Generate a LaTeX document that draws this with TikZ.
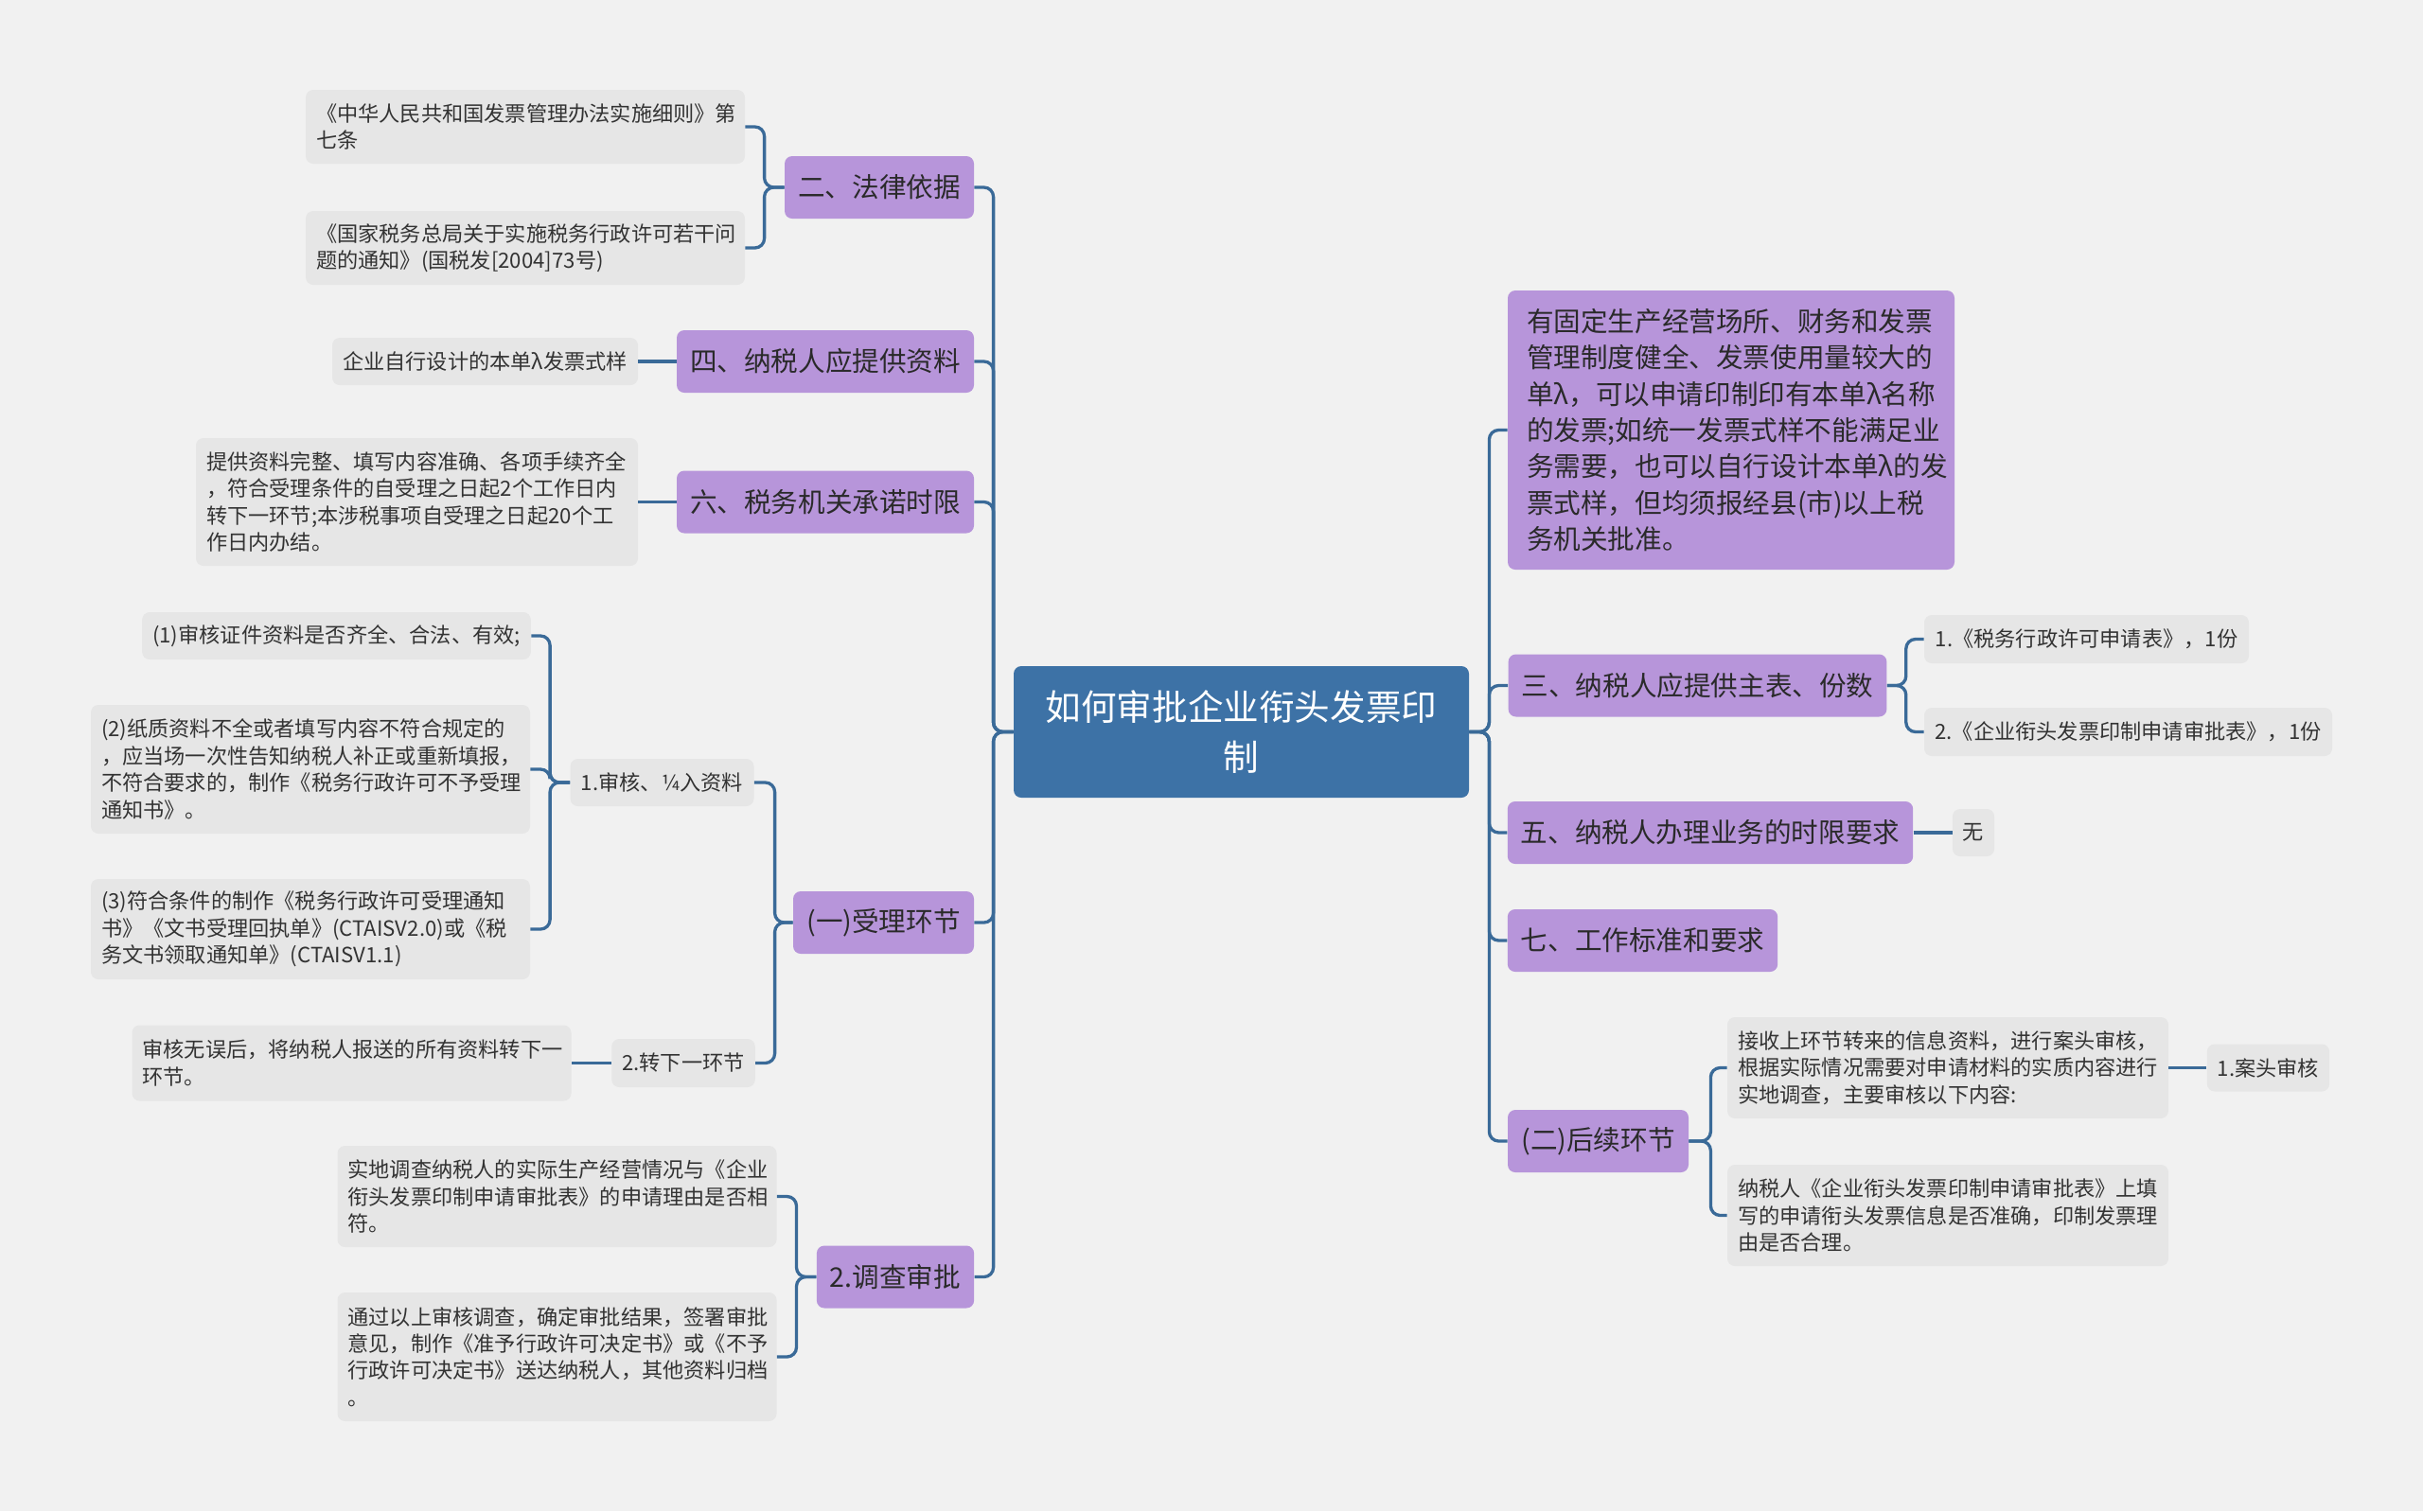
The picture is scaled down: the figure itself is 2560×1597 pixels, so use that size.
\documentclass[tikz,border=0pt]{standalone}
\usepackage{fontspec}
\setmainfont{Noto Sans CJK SC}
\definecolor{bgc}{HTML}{F1F1F1}
\definecolor{gbg}{HTML}{E6E6E6}
\definecolor{pbg}{HTML}{B795DA}
\definecolor{cbg}{HTML}{3D72A6}
\definecolor{lc}{HTML}{3A6A98}
\definecolor{gtxt}{HTML}{333333}
\definecolor{ptxt}{HTML}{2A2A2A}
\tikzset{
  gbox/.style={fill=gbg, rounded corners=4pt, text=gtxt, font=\fontsize{11.1}{14.2}\selectfont, inner xsep=5.5pt, inner ysep=0pt, align=left},
  gone/.style={gbox, align=center},
  pbox/.style={fill=pbg, rounded corners=4pt, text=ptxt, font=\fontsize{14.3}{19.2}\selectfont, inner xsep=7pt, inner ysep=0pt, align=center, minimum height=33pt},
  cbox/.style={fill=cbg, rounded corners=4pt, text=white, font=\fontsize{18.8}{26.6}\selectfont, inner sep=0pt, align=center},
  conn/.style={draw=lc, line width=1.65pt, rounded corners=5pt}
}
\begin{document}
\begin{tikzpicture}[x=0.5pt,y=-0.5pt]
\fill[bgc] (0,0) rectangle (2560,1597);
\useasboundingbox (0,0) rectangle (2560,1597);

% central
\node[cbox, minimum width=240.5pt, minimum height=69.5pt] (c) at (1311.5,773.5) {如何审批企业衔头发票印\\制};

% left level 1
\node[pbox, minimum width=100pt] (A) at (929,198) {二、法律依据};
\node[pbox, minimum width=156pt] (B) at (872,382) {四、纳税人应提供资料};
\node[pbox, minimum width=156pt] (C) at (872,530.5) {六、税务机关承诺时限};
\node[pbox, minimum width=95.5pt] (D) at (933.5,975) {(一)受理环节};
\node[pbox, minimum width=83pt] (E) at (946,1349.5) {2.调查审批};

% left gray
\node[gbox, text width=221pt, minimum height=39pt] (A1) at (555,134) {《中华人民共和国发票管理办法实施细则》第\\七条};
\node[gbox, text width=221pt, minimum height=39pt] (A2) at (555,262) {《国家税务总局关于实施税务行政许可若干问\\题的通知》(国税发[2004]73号)};
\node[gone, minimum width=161.5pt, minimum height=25pt] (B1) at (512.5,382) {企业自行设计的本单λ发票式样};
\node[gbox, text width=222.5pt, minimum height=67.5pt] (C1) at (440.5,530.5) {提供资料完整、填写内容准确、各项手续齐全\\，符合受理条件的自受理之日起2个工作日内\\转下一环节;本涉税事项自受理之日起20个工\\作日内办结。};
\node[gone, minimum width=97pt, minimum height=25pt] (D1) at (699.5,827) {1.审核、¼入资料};
\node[gone, minimum width=204.5pt, minimum height=25pt] (D1a) at (355.5,672) {(1)审核证件资料是否齐全、合法、有效;};
\node[gbox, text width=221pt, minimum height=68pt] (D1b) at (328,813) {(2)纸质资料不全或者填写内容不符合规定的\\，应当场一次性告知纳税人补正或重新填报，\\不符合要求的，制作《税务行政许可不予受理\\通知书》。};
\node[gbox, text width=221pt, minimum height=53pt] (D1c) at (328,982) {(3)符合条件的制作《税务行政许可受理通知\\书》《文书受理回执单》(CTAISV2.0)或《税\\务文书领取通知单》(CTAISV1.1)};
\node[gone, minimum width=75pt, minimum height=25.5pt] (D2) at (722,1123.5) {2.转下一环节};
\node[gbox, text width=221pt, minimum height=40pt] (D2a) at (371.5,1123.5) {审核无误后，将纳税人报送的所有资料转下一\\环节。};
\node[gbox, text width=221pt, minimum height=53.5pt] (E1) at (588.5,1264.5) {实地调查纳税人的实际生产经营情况与《企业\\衔头发票印制申请审批表》的申请理由是否相\\符。};
\node[gbox, text width=221pt, minimum height=68pt] (E2) at (588.5,1434) {通过以上审核调查，确定审批结果，签署审批\\意见，制作《准予行政许可决定书》或《不予\\行政许可决定书》送达纳税人，其他资料归档\\。};

% right level 1
\node[pbox, align=left, text width=216pt, minimum width=236pt, minimum height=147.5pt] (F1) at (1829,454.5) {有固定生产经营场所、财务和发票\\管理制度健全、发票使用量较大的\\单λ，可以申请印制印有本单λ名称\\的发票;如统一发票式样不能满足业\\务需要，也可以自行设计本单λ的发\\票式样，但均须报经县(市)以上税\\务机关批准。};
\node[pbox, minimum width=199.5pt] (F2) at (1793.5,724.5) {三、纳税人应提供主表、份数};
\node[pbox, minimum width=214pt] (F3) at (1807,880) {五、纳税人办理业务的时限要求};
\node[pbox, minimum width=142.5pt] (F4) at (1735.5,994) {七、工作标准和要求};
\node[pbox, minimum width=95.5pt] (F5) at (1688.5,1206) {(二)后续环节};

% right gray
\node[gone, minimum width=171.5pt, minimum height=25.5pt] (F2a) at (2204.5,675.5) {1.《税务行政许可申请表》，1份};
\node[gone, minimum width=215.5pt, minimum height=25.5pt] (F2b) at (2248.5,773.5) {2.《企业衔头发票印制申请审批表》，1份};
\node[gone, minimum width=22pt, minimum height=25pt] (F3a) at (2085,880) {无};
\node[gbox, text width=222pt, minimum height=53.5pt] (F5a) at (2058,1128.5) {接收上环节转来的信息资料，进行案头审核，\\根据实际情况需要对申请材料的实质内容进行\\实地调查，主要审核以下内容:};
\node[gone, minimum width=64.5pt, minimum height=25pt] (F5a1) at (2396.5,1128.5) {1.案头审核};
\node[gbox, text width=222pt, minimum height=53.5pt] (F5b) at (2058,1284.5) {纳税人《企业衔头发票印制申请审批表》上填\\写的申请衔头发票信息是否准确，印制发票理\\由是否合理。};

% connectors left
\foreach \t in {A,B,C,D,E} \draw[conn] (c.west) -- ++(-21,0) |- (\t.east);
\foreach \t in {A1,A2} \draw[conn] (A.west) -- ++(-21,0) |- (\t.east);
\draw[conn] (B.west) -- (B1.east);
\draw[conn] (C.west) -- (C1.east);
\foreach \t in {D1,D2} \draw[conn] (D.west) -- ++(-19,0) |- (\t.east);
\foreach \t in {D1a,D1b,D1c} \draw[conn] (D1.west) -- ++(-21,0) |- (\t.east);
\draw[conn] (D2.west) -- (D2a.east);
\foreach \t in {E1,E2} \draw[conn] (E.west) -- ++(-21,0) |- (\t.east);

% connectors right
\foreach \t in {F1,F2,F3,F4,F5} \draw[conn] (c.east) -- ++(21,0) |- (\t.west);
\foreach \t in {F2a,F2b} \draw[conn] (F2.east) -- ++(20,0) |- (\t.west);
\draw[conn] (F3.east) -- (F3a.west);
\foreach \t in {F5a,F5b} \draw[conn] (F5.east) -- ++(23,0) |- (\t.west);
\draw[conn] (F5a.east) -- (F5a1.west);
\end{tikzpicture}
\end{document}
